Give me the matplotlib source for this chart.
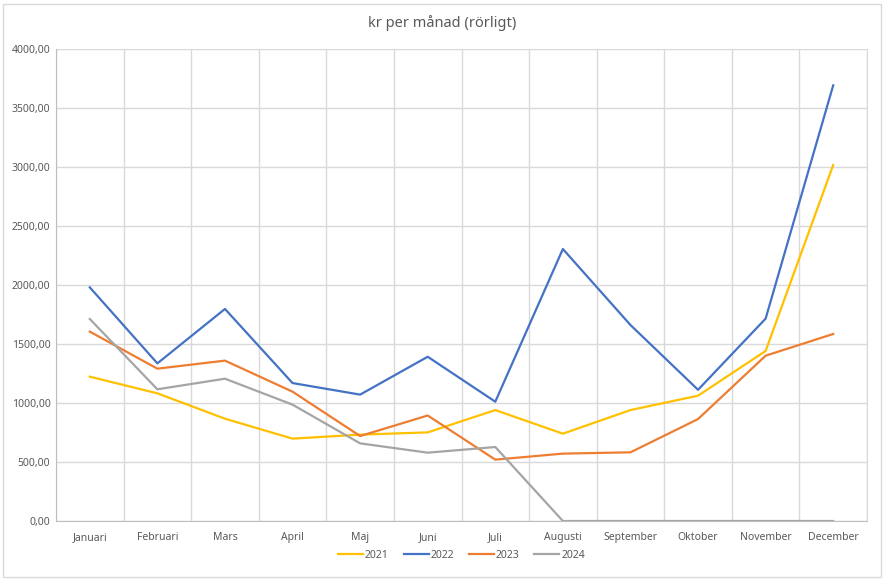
import numpy as np
import matplotlib.pyplot as plt
from matplotlib.patches import Rectangle
from matplotlib.ticker import FuncFormatter, MultipleLocator

plt.rcParams['font.family'] = ['Noto Sans', 'DejaVu Sans']

manader = ['Januari', 'Februari', 'Mars', 'April', 'Maj', 'Juni', 'Juli',
           'Augusti', 'September', 'Oktober', 'November', 'December']
ar = ['2021', '2022', '2023', '2024']
kr2021 = [1223, 1082, 867, 698, 732, 751, 940, 740, 940, 1062, 1441, 3017]
kr2022 = [1980, 1336, 1797, 1169, 1071, 1392, 1011, 2305, 1661, 1112, 1715, 3692]
kr2023 = [1605, 1291, 1359, 1096, 720, 894, 520, 571, 582, 864, 1401, 1585]
kr2024 = [1712, 1116, 1206, 986, 658, 579, 627, 0, 0, 0, 0, 0]
farger = ['#FFC000', '#4472C4', '#ED7D31', '#A5A5A5']

fig = plt.figure(figsize=(8.84, 5.82), dpi=100)
ax = fig.add_axes([56 / 884, 1 - 521 / 582, 811 / 884, 472 / 582])

# ram runt hela diagrammet
fig.patches.append(Rectangle((3 / 884, 1 - 577 / 582), 878 / 884, 573 / 582,
                             transform=fig.transFigure, fill=False,
                             edgecolor='#D9D9D9', linewidth=1))

x = np.arange(len(manader))
for serie, farg, namn in zip([kr2021, kr2022, kr2023, kr2024], farger, ar):
    ax.plot(x, serie, color=farg, linewidth=1.6, label=namn, solid_joinstyle='round')

ax.set_xlim(-0.5, len(manader) - 0.5)
ax.set_ylim(0, 4000)
ax.yaxis.set_major_locator(MultipleLocator(500))
ax.yaxis.set_major_formatter(FuncFormatter(lambda v, p: f'{v:.2f}'.replace('.', ',')))
ax.set_xticks(x)
ax.set_xticklabels(manader)
ax.set_xticks(np.arange(-0.5, len(manader)), minor=True)

ax.grid(axis='y', which='major', color='#D9D9D9', linewidth=1)
ax.grid(axis='x', which='minor', color='#D9D9D9', linewidth=1)
ax.set_axisbelow(True)
ax.tick_params(which='both', length=0, colors='#595959', labelsize=7.5)
ax.tick_params(axis='x', pad=8)
ax.tick_params(axis='y', pad=4)
ax.spines['top'].set_visible(False)
ax.spines['right'].set_color('#D9D9D9')
for s in ['left', 'bottom']:
    ax.spines[s].set_color('#BFBFBF')

fig.text(0.5, 1 - 23 / 582, 'kr per månad (rörligt)', ha='center', va='center',
         fontsize=10.5, color='#595959')

ax.legend(loc='center', bbox_to_anchor=(0.5, (521 - 555) / 472), ncol=4,
          frameon=False, fontsize=7.5, labelcolor='#595959', handlelength=2.4,
          handletextpad=0.2, columnspacing=1.4)

plt.savefig('out.png', dpi=100)
